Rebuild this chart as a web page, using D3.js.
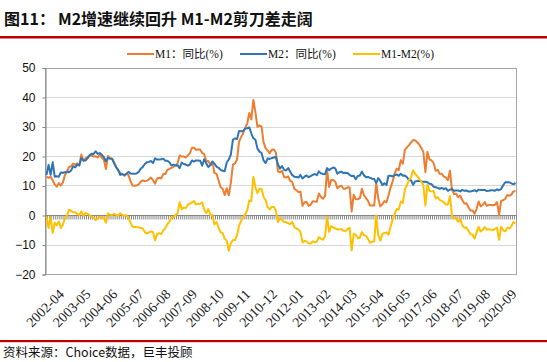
<!DOCTYPE html>
<html><head><meta charset="utf-8">
<script src="https://cdn.jsdelivr.net/npm/d3@7"></script>
<style>body{margin:0;background:#fff} svg{display:block}</style>
</head><body><svg id="c" width="547" height="362"></svg>
<script>
// ---- data ----
const firstMonth = "2001-08";
const lastMonth = "2020-09";
const m2 = [
  13.6, 17.0, 13.6, 17.9, 13.0,
  13.1, 13.0, 14.4, 14.3, 14.5, 14.7, 14.5, 15.1, 16.5, 16.1, 17.1, 16.8,
  19.3, 18.5, 18.5, 19.2, 20.2, 20.8, 20.7, 21.6, 20.7, 21.0, 20.4, 19.6,
  18.2, 19.4, 19.1, 19.1, 17.5, 16.2, 15.3, 13.6, 13.9, 13.5, 14.0, 14.6,
  14.1, 14.0, 14.0, 14.1, 14.6, 15.7, 16.3, 17.3, 17.9, 18.0, 18.3, 17.6,
  19.2, 18.8, 18.8, 18.9, 19.1, 18.4, 18.4, 17.9, 16.8, 17.1, 16.8, 16.9,
  15.9, 17.8, 17.3, 17.1, 16.7, 17.1, 18.5, 18.1, 18.5, 18.5, 18.4, 16.7,
  18.9, 17.5, 16.3, 16.9, 18.1, 17.4, 16.4, 16.0, 15.3, 15.0, 14.8, 17.8,
  18.8, 20.5, 25.5, 26.0, 25.7, 28.5, 28.4, 28.5, 29.3, 29.4, 29.7, 27.7,
  26.0, 25.5, 22.5, 21.5, 21.0, 18.5, 17.6, 19.2, 19.0, 19.3, 19.5, 19.7,
  17.2, 15.7, 16.6, 15.3, 15.1, 15.9, 14.7, 13.5, 13.0, 12.9, 12.7, 13.6,
  12.4, 13.0, 13.4, 12.8, 13.2, 13.6, 13.9, 13.5, 14.8, 14.1, 13.9, 13.8,
  15.9, 15.2, 15.7, 16.1, 15.8, 14.0, 14.5, 14.7, 14.2, 14.3, 14.2, 13.6,
  13.2, 13.3, 12.1, 13.2, 13.4, 14.7, 13.5, 12.8, 12.9, 12.6, 12.3, 12.2,
  10.8, 12.5, 11.6, 10.1, 10.8, 10.2, 13.3, 13.3, 13.1, 13.5, 13.7, 13.3,
  14.0, 13.3, 13.4, 12.8, 11.8, 11.8, 10.2, 11.4, 11.5, 11.6, 11.4, 11.3,
  11.3, 11.1, 10.6, 10.5, 9.6, 9.4, 9.2, 8.9, 9.2, 8.8, 9.1, 8.2,
  8.6, 8.8, 8.2, 8.3, 8.3, 8.0, 8.5, 8.2, 8.3, 8.0, 8.0, 8.1,
  8.4, 8.0, 8.6, 8.5, 8.5, 8.5, 8.1, 8.2, 8.4, 8.4, 8.2, 8.7,
  8.4, 8.8, 10.1, 11.1, 11.1, 11.1, 10.7, 10.4, 10.9
];
const m1 = [
  13.0, 12.6, 13.0, 11.8, 10.4,
  9.6, 10.8, 10.0, 11.0, 13.6, 14.5, 16.3, 16.5, 17.4, 17.0, 17.5, 16.8,
  20.5, 18.3, 19.2, 19.6, 20.2, 20.2, 19.8, 19.9, 19.5, 20.4, 19.4, 18.7,
  15.6, 20.0, 19.2, 19.1, 17.9, 16.2, 15.1, 14.2, 13.9, 13.3, 13.9, 13.6,
  11.5, 10.0, 9.9, 10.0, 10.4, 11.3, 11.7, 11.5, 11.6, 12.1, 12.7, 11.8,
  10.6, 12.4, 12.6, 12.4, 13.9, 13.9, 15.3, 15.6, 16.0, 16.3, 16.8, 17.5,
  20.2, 19.8, 19.8, 19.5, 20.2, 20.9, 22.8, 22.8, 22.1, 22.2, 22.2, 21.0,
  20.7, 18.2, 18.3, 16.9, 18.1, 14.2, 14.0, 11.8, 9.4, 8.9, 6.8, 9.1,
  6.7, 10.9, 17.0, 17.5, 18.7, 24.8, 26.4, 27.7, 29.5, 31.0, 34.6, 32.4,
  39.0, 34.9, 29.9, 30.4, 29.9, 24.6, 22.6, 21.9, 20.9, 22.1, 22.2, 21.2,
  14.8, 14.5, 15.0, 12.9, 12.7, 13.1, 11.6, 11.2, 8.9, 8.4, 7.8, 7.9,
  3.1, 4.3, 4.4, 3.1, 3.5, 4.7, 4.6, 4.5, 7.3, 6.1, 5.5, 6.5,
  15.3, 9.5, 11.9, 11.9, 11.3, 9.1, 9.7, 9.9, 8.9, 8.9, 9.4, 9.3,
  1.2, 6.9, 5.4, 5.3, 5.7, 8.9, 6.7, 5.7, 4.8, 3.2, 3.2, 3.2,
  10.6, 5.6, 2.9, 3.7, 4.7, 4.3, 6.6, 9.3, 11.4, 14.0, 15.7, 15.2,
  18.6, 17.4, 22.1, 22.9, 23.7, 24.6, 25.4, 25.3, 24.7, 23.9, 22.7, 21.4,
  14.5, 21.4, 18.8, 18.5, 17.7, 15.0, 15.3, 14.0, 14.0, 13.0, 12.7, 11.8,
  15.0, 8.5, 7.1, 7.2, 6.0, 6.6, 5.1, 3.9, 4.0, 2.7, 1.5, 1.5,
  0.4, 2.0, 4.6, 2.9, 3.4, 4.4, 3.1, 3.4, 3.4, 3.3, 3.5, 4.4,
  0.0, 4.8, 5.0, 5.5, 6.8, 6.5, 6.9, 8.0, 8.1
];
const tickLabels = ["2002-04","2003-05","2004-06","2005-07","2006-08","2007-09","2008-10","2009-11","2010-12",
  "2012-01","2013-02","2014-03","2015-04","2016-05","2017-06","2018-07","2019-08","2020-09"];
const yTicks = [50, 40, 30, 20, 10, 0, -10, -20];
const seriesNames = ["M1：同比(%)", "M2：同比(%)", "M1-M2(%)"];
const seriesColors = ["#ED7D31", "#2E75B6", "#FFC000"];
const titleLead = "图11：";
const titleMain = "M2增速继续回升 M1-M2剪刀差走阔";
const sourceText = "资料来源：Choice数据，巨丰投顾";

// ---- derived ----
const parse = d3.timeParse("%Y-%m"), fmt = d3.timeFormat("%Y-%m");
const categories = d3.timeMonth.range(parse(firstMonth), d3.timeMonth.offset(parse(lastMonth), 1)).map(fmt);
const gap = m1.map((v, i) => +(v - m2[i]).toFixed(1));
const series = [m1, m2, gap];

const svg = d3.select("#c");
const L = 45.5, R = 516.5, T = 67.5, B = 274;
const x = d3.scaleBand().domain(categories).range([L, R]).padding(0);
const xc = c => x(c) + x.bandwidth() / 2;
const y = d3.scaleLinear().domain([-20, 50]).range([B, T]);

// title
svg.append("text").attr("x", 4).attr("y", 25).text(titleLead)
  .attr("font-family", "'Noto Sans CJK SC', sans-serif").attr("font-weight", "bold").attr("font-size", 16).attr("fill", "#111");
svg.append("text").attr("x", 58).attr("y", 25).text(titleMain)
  .attr("font-family", "'Noto Sans CJK SC', sans-serif").attr("font-weight", "bold").attr("font-size", 16).attr("fill", "#111");
svg.append("rect").attr("x", 0).attr("y", 36).attr("width", 547).attr("height", 2.5).attr("fill", "#C00000");

// gridlines
svg.append("g").selectAll("line").data(yTicks.filter(d => d !== 0)).join("line")
  .attr("x1", L).attr("x2", R).attr("y1", d => Math.round(y(d)) + 0.5).attr("y2", d => Math.round(y(d)) + 0.5)
  .attr("stroke", "#D9D9D9").attr("stroke-width", 1);
// border
svg.append("rect").attr("x", L).attr("y", Math.round(T) + 0.5).attr("width", R - L).attr("height", Math.round(B) - Math.round(T))
  .attr("fill", "none").attr("stroke", "#A6A6A6");

// y axis
const ya = svg.append("g").attr("transform", `translate(${L},0.5)`)
  .call(d3.axisLeft(y).tickValues(yTicks).tickSize(3).tickPadding(7).tickFormat(d3.format("d")));
ya.select(".domain").attr("stroke", "#868686");
ya.selectAll(".tick line").attr("stroke", "#868686");
ya.selectAll("text").attr("font-family", "'Liberation Sans', Arial, sans-serif").attr("font-size", 12).attr("fill", "#111");

// zero category axis with monthly ticks
const y0 = Math.round(y(0)) + 0.5;
const bounds = categories.map(c => x(c)).concat([x(categories[categories.length - 1]) + x.bandwidth()]);
svg.append("g").selectAll("line").data(bounds).join("line")
  .attr("x1", d => d).attr("x2", d => d).attr("y1", y0).attr("y2", y0 + 4)
  .attr("stroke", "#868686").attr("stroke-width", 1);
svg.append("line").attr("x1", L).attr("x2", R).attr("y1", y0).attr("y2", y0).attr("stroke", "#868686");

// series lines
const line = d3.line().x((d, i) => xc(categories[i])).y(d => y(d)).curve(d3.curveLinear);
series.forEach((s, k) => {
  svg.append("path").datum(s).attr("d", line).attr("fill", "none")
    .attr("stroke", seriesColors[k]).attr("stroke-width", 2).attr("stroke-linejoin", "round");
});

// x tick labels
svg.append("g").selectAll("text").data(tickLabels).join("text")
  .attr("transform", d => `translate(${xc(d) + 2},${B + 21}) rotate(-45)`)
  .attr("text-anchor", "end").attr("font-family", "'Liberation Serif', 'Times New Roman', serif")
  .attr("font-size", 14).attr("fill", "#222").text(d => d);

// legend
const legX = [127, 240, 353];
seriesNames.forEach((n, k) => {
  svg.append("line").attr("x1", legX[k]).attr("x2", legX[k] + 27).attr("y1", 54).attr("y2", 54)
    .attr("stroke", seriesColors[k]).attr("stroke-width", 2);
  svg.append("text").attr("x", legX[k] + 28).attr("y", 58).text(n)
    .attr("font-family", "'Liberation Serif', 'Noto Sans CJK SC', serif").attr("font-size", 11.5).attr("fill", "#111");
});

// bottom rule and source
svg.append("rect").attr("x", 0).attr("y", 340).attr("width", 547).attr("height", 2.2).attr("fill", "#C00000");
svg.append("text").attr("x", 3).attr("y", 357).text(sourceText)
  .attr("font-family", "'Noto Sans CJK SC', sans-serif").attr("font-size", 12.5).attr("fill", "#111");
</script></body></html>
